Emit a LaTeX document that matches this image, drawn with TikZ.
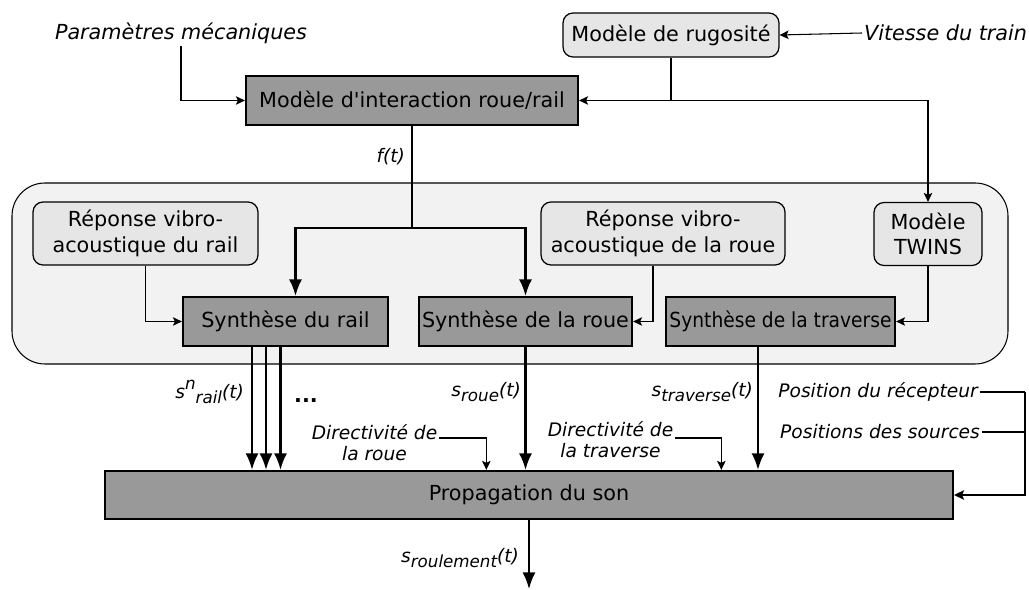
\documentclass[tikz,border=0pt]{standalone}
\usepackage{fontspec}
\setmainfont{DejaVu Sans}
\usepackage{graphicx}
\usepackage{xcolor}
\usetikzlibrary{positioning, calc, arrows.meta}

\definecolor{boxdark}{HTML}{999999}
\definecolor{boxlight}{HTML}{E6E6E6}
\definecolor{panelgray}{HTML}{F2F2F2}

\newcommand{\boxfont}{\fontsize{11.8pt}{14.5pt}\selectfont}
\newcommand{\toplabelfont}{\fontsize{11.8pt}{14.5pt}\selectfont\itshape}
\newcommand{\labelfont}{\fontsize{10.6pt}{12pt}\selectfont\itshape}
\newcommand{\lowsub}[1]{\raisebox{-0.45ex}{\fontsize{9.5pt}{10pt}\selectfont #1}}
\newcommand{\highsup}[1]{\raisebox{0.9ex}{\fontsize{9.5pt}{10pt}\selectfont #1}}

\tikzset{
    synth/.style={draw, line width=1.3pt, fill=boxdark, font=\boxfont, inner sep=1pt, minimum height=0.98cm},
    model/.style={draw, line width=0.7pt, fill=boxlight, rounded corners=0.2cm, font=\boxfont, align=center, inner sep=2pt},
    toplbl/.style={font=\toplabelfont, inner sep=1pt},
    lbl/.style={font=\labelfont, inner sep=1pt},
    sig/.style={line width=1.15pt, -{Latex[length=0.33cm, width=0.26cm]}},
    feed/.style={line width=0.6pt, -{Stealth[length=0.18cm, width=0.17cm, inset=0.04cm]}},
    feedbold/.style={line width=0.9pt, -{Stealth[length=0.2cm, width=0.19cm, inset=0.04cm]}}
}

\begin{document}
\begin{tikzpicture}[x=0.02cm, y=-0.02cm]
    \useasboundingbox (0,0) rectangle (1029,590);

    % Panel around the synthesis blocks
    \draw[line width=0.6pt, fill=panelgray, rounded corners=0.66cm] (12,183) rectangle (1008,364);

    % Top row
    \node[toplbl] (param) at (181,33) {Paramètres mécaniques};
    \node[synth, minimum width=6.64cm] (inter) at (412,100.5) {Modèle d\textquotesingle interaction roue/rail};
    \node[model, minimum width=4.32cm, minimum height=0.88cm] (rug) at (671,35) {Modèle de rugosité};
    \node[toplbl, anchor=west] (vitesse) at (862,33) {Vitesse du train};

    % Models inside the panel
    \node[model, minimum width=4.5cm, minimum height=1.26cm] (repRail) at (145.5,233.5) {Réponse vibro-\\acoustique du rail};
    \node[model, minimum width=4.88cm, minimum height=1.26cm] (repRoue) at (663,233.5) {Réponse vibro-\\acoustique de la roue};
    \node[model, minimum width=2.16cm, minimum height=1.26cm] (twins) at (928,234) {Modèle\\TWINS};

    % Synthesis blocks
    \node[synth, minimum width=4.1cm] (synRail) at (285.5,321.5) {Synthèse du rail};
    \node[synth, minimum width=4.26cm] (synRoue) at (525.5,321.5) {Synthèse de la roue};
    \node[synth, minimum width=4.58cm] (synTrav) at (780.5,321.5) {\scalebox{0.9}[1]{Synthèse de la traverse}};

    % Propagation block
    \node[synth, minimum width=16.96cm, minimum height=0.96cm] (prop) at (529,495) {Propagation du son};

    % Signal labels
    \node[lbl, anchor=east] (ft) at (407,157) {f(t)};
    \node[lbl, anchor=east] (sRail) at (246,392) {s\highsup{n}\lowsub{rail}(t)};
    \node[font=\boxfont\bfseries, inner sep=1pt] (dots) at (306,401) {...};
    \node[lbl, anchor=east] (sRoue) at (523,392) {s\lowsub{roue}(t)};
    \node[lbl, anchor=east] (sTrav) at (755,392) {s\lowsub{traverse}(t)};
    \node[lbl, align=center] (dirRoue) at (374.5,442.5) {Directivité de\\la roue};
    \node[lbl, align=center] (dirTrav) at (610.5,440) {Directivité de\\la traverse};
    \node[lbl, anchor=east] (recept) at (980,392) {Position du récepteur};
    \node[lbl, anchor=east] (sources) at (982,432) {Positions des sources};
    \node[lbl, anchor=east] (sRoul) at (521,558) {s\lowsub{roulement}(t)};

    % Inputs of the interaction model
    \draw[feed] (param.south) |- (inter.west);
    \draw[feed] (vitesse.west) -- (rug.east);
    \coordinate (jRug) at (rug.south |- inter.east);
    \draw[line width=0.6pt] (rug.south) -- (jRug);
    \draw[feed] (jRug) -- (inter.east);
    \draw[feed] (jRug) -| (twins.north);

    % Contact force to the synthesis blocks
    \coordinate (jF) at (412,228);
    \draw[sig] (inter.south) -- (jF) -| ([xshift=0.2cm]synRail.north);
    \draw[sig] (jF) -| (synRoue.north);

    % Responses to the synthesis blocks
    \draw[feed] (repRail.south) |- (synRail.west);
    \draw[feed] ([xshift=-0.2cm]repRoue.south) |- (synRoue.east);
    \draw[feed] (twins.south) |- (synTrav.east);

    % Source signals to the propagation
    \foreach \dx in {-0.67,-0.39,-0.1} {
        \draw[sig] ([xshift=\dx cm]synRail.south) -- ([xshift=\dx cm]synRail.south |- prop.north);
    }
    \draw[sig] (synRoue.south) -- (synRoue.south |- prop.north);
    \draw[sig] ([xshift=-0.45cm]synTrav.south) -- ([xshift=-0.45cm]synTrav.south |- prop.north);

    % Directivities
    \draw[feed] ([yshift=0.09cm]dirRoue.east) -- ++(47,0) coordinate (dR) -- (dR |- prop.north);
    \draw[feed] ([yshift=0.04cm]dirTrav.east) -- ++(46,0) coordinate (dT) -- (dT |- prop.north);

    % Positions
    \draw[line width=0.6pt] (recept.east) -- ++(45,0) coordinate (jPos);
    \draw[line width=0.6pt] (sources.east) -- (sources.east -| jPos);
    \draw[feedbold] (jPos) |- (prop.east);

    % Output
    \coordinate (out) at (529,589);
    \draw[sig] (prop.south) -- (out);
\end{tikzpicture}
\end{document}
